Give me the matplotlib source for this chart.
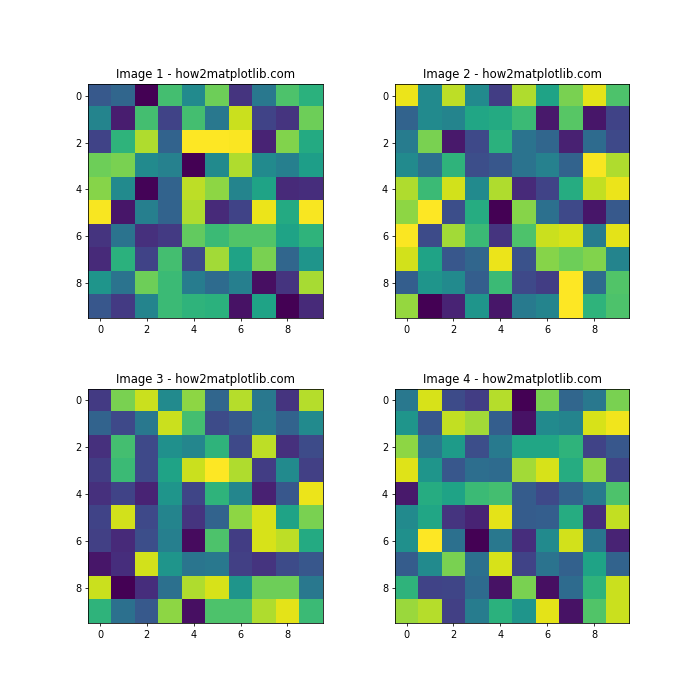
import matplotlib
matplotlib.use("Agg")
import matplotlib.pyplot as plt
import numpy as np

titles = ["Image 1 - how2matplotlib.com", "Image 2 - how2matplotlib.com",
          "Image 3 - how2matplotlib.com", "Image 4 - how2matplotlib.com"]

image1 = [
    [0.28, 0.33, 0.00, 0.70, 0.48, 0.78, 0.15, 0.40, 0.72, 0.64],
    [0.45, 0.08, 0.70, 0.20, 0.70, 0.40, 0.92, 0.20, 0.15, 0.78],
    [0.20, 0.65, 0.88, 0.32, 1.00, 1.00, 0.995, 0.10, 0.81, 0.61],
    [0.78, 0.80, 0.48, 0.44, 0.00, 0.48, 0.88, 0.48, 0.43, 0.56],
    [0.82, 0.48, 0.01, 0.32, 0.90, 0.83, 0.45, 0.58, 0.12, 0.13],
    [0.99, 0.06, 0.43, 0.32, 0.88, 0.12, 0.20, 0.97, 0.61, 0.99],
    [0.15, 0.38, 0.14, 0.17, 0.76, 0.68, 0.73, 0.73, 0.58, 0.65],
    [0.12, 0.64, 0.20, 0.70, 0.22, 0.86, 0.58, 0.80, 0.33, 0.52],
    [0.52, 0.38, 0.78, 0.68, 0.42, 0.35, 0.43, 0.04, 0.15, 0.87],
    [0.27, 0.17, 0.45, 0.68, 0.65, 0.64, 0.05, 0.58, 0.00, 0.12],
]
image2 = [
    [0.97, 0.48, 0.90, 0.48, 0.18, 0.88, 0.58, 0.80, 0.96, 0.72],
    [0.32, 0.48, 0.45, 0.59, 0.61, 0.68, 0.07, 0.74, 0.06, 0.20],
    [0.42, 0.80, 0.07, 0.22, 0.64, 0.38, 0.33, 0.09, 0.35, 0.22],
    [0.48, 0.37, 0.65, 0.24, 0.27, 0.38, 0.44, 0.32, 0.99, 0.88],
    [0.88, 0.68, 0.93, 0.48, 0.88, 0.12, 0.20, 0.62, 0.91, 0.97],
    [0.83, 1.00, 0.24, 0.62, 0.00, 0.82, 0.37, 0.22, 0.06, 0.28],
    [0.995, 0.23, 0.86, 0.68, 0.15, 0.72, 0.92, 0.94, 0.42, 0.96],
    [0.93, 0.58, 0.27, 0.33, 0.97, 0.25, 0.82, 0.78, 0.81, 0.45],
    [0.30, 0.52, 0.48, 0.30, 0.68, 0.22, 0.18, 1.00, 0.35, 0.73],
    [0.84, 0.00, 0.10, 0.52, 0.06, 0.41, 0.45, 1.00, 0.65, 0.72],
]
image3 = [
    [0.17, 0.80, 0.92, 0.48, 0.83, 0.33, 0.89, 0.40, 0.15, 0.89],
    [0.32, 0.22, 0.40, 0.92, 0.70, 0.23, 0.28, 0.41, 0.32, 0.48],
    [0.14, 0.70, 0.22, 0.50, 0.46, 0.65, 0.22, 0.90, 0.14, 0.23],
    [0.18, 0.68, 0.22, 0.58, 0.92, 1.00, 0.88, 0.18, 0.48, 0.19],
    [0.14, 0.20, 0.10, 0.52, 0.21, 0.65, 0.46, 0.09, 0.27, 0.97],
    [0.20, 0.93, 0.22, 0.45, 0.15, 0.32, 0.83, 0.94, 0.58, 0.80],
    [0.19, 0.12, 0.24, 0.43, 0.03, 0.72, 0.18, 0.94, 0.90, 0.61],
    [0.06, 0.13, 0.93, 0.52, 0.39, 0.40, 0.19, 0.15, 0.23, 0.27],
    [0.92, 0.00, 0.13, 0.37, 0.88, 0.94, 0.52, 0.78, 0.78, 0.40],
    [0.65, 0.37, 0.28, 0.83, 0.04, 0.72, 0.72, 0.88, 0.96, 0.68],
]
image4 = [
    [0.40, 0.94, 0.23, 0.18, 0.89, 0.00, 0.80, 0.33, 0.40, 0.80],
    [0.52, 0.27, 0.91, 0.86, 0.30, 0.05, 0.48, 0.45, 0.94, 0.98],
    [0.83, 0.40, 0.55, 0.24, 0.41, 0.59, 0.59, 0.65, 0.20, 0.27],
    [0.95, 0.52, 0.27, 0.36, 0.35, 0.86, 0.94, 0.62, 0.83, 0.20],
    [0.07, 0.62, 0.58, 0.68, 0.70, 0.29, 0.22, 0.32, 0.41, 0.72],
    [0.48, 0.59, 0.15, 0.10, 0.96, 0.29, 0.30, 0.62, 0.13, 0.91],
    [0.50, 1.00, 0.37, 0.00, 0.40, 0.13, 0.48, 0.93, 0.39, 0.10],
    [0.29, 0.48, 0.80, 0.37, 0.94, 0.20, 0.38, 0.31, 0.58, 0.32],
    [0.65, 0.20, 0.21, 0.35, 0.05, 0.80, 0.04, 0.35, 0.65, 0.92],
    [0.85, 0.89, 0.19, 0.42, 0.64, 0.52, 0.96, 0.05, 0.73, 0.92],
]

images = [image1, image2, image3, image4]

fig, axes = plt.subplots(2, 2, figsize=(10, 10), dpi=70)
fig.subplots_adjust(wspace=0.3, hspace=0.3)
for ax, img, title in zip(axes.flat, images, titles):
    ax.imshow(np.array(img), cmap="viridis")
    ax.set_title(title)
fig.savefig("out.png", dpi=70)
